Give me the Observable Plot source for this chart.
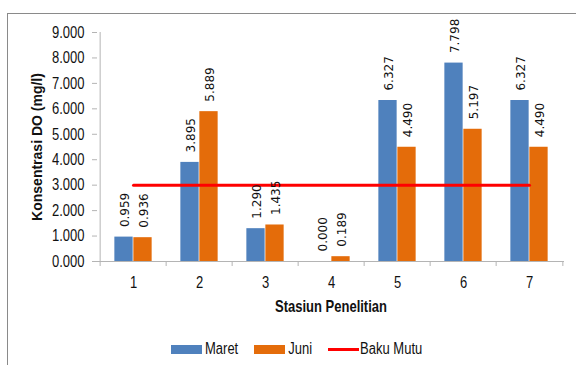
<!DOCTYPE html>
<html>
<head>
<meta charset="utf-8">
<script src="https://cdn.jsdelivr.net/npm/d3@7"></script>
<script src="https://cdn.jsdelivr.net/npm/@observablehq/plot@0.6"></script>
<style>
  body { margin: 0; background: #fff; }
  #wrap {
    position: relative; width: 576px; height: 365px; overflow: hidden; background: #fff;
    font-family: "Liberation Sans", Arial, sans-serif;
    color: #111;
  }
  #box {
    position: absolute; left: 7px; top: 13px; width: 620px; height: 400px;
    border-left: 1px solid #8a8a8a; border-top: 1px solid #8a8a8a;
  }
  #chart { position: absolute; left: 0; top: 0; }
  #legend {
    position: absolute; left: 171px; top: 339px; display: flex; align-items: center;
    font-size: 13px; line-height: 20px;
  }
  #legend .item { display: flex; align-items: center; margin-right: 16px; }
  #legend .item span { display: inline-block; transform: scaleY(1.28); }
  #legend .sw { width: 31px; height: 9px; margin-right: 3px; }
  #legend .ln { width: 31px; height: 3px; margin-right: 1px; }
</style>
</head>
<body>
<div id="wrap">
  <div id="box"></div>
  <div id="chart"></div>
  <div id="legend"></div>
</div>
<script>
// Dissolved oxygen per sampling station, March vs June, against the quality standard
const stations = ["1", "2", "3", "4", "5", "6", "7"];
const maret = [0.959, 3.895, 1.290, 0.000, 6.327, 7.798, 6.327];
const juni = [0.936, 5.889, 1.435, 0.189, 4.490, 5.197, 4.490];
const bakuMutu = 3;
const yTicks = [0, 1, 2, 3, 4, 5, 6, 7, 8, 9];
const seriesNames = ["Maret", "Juni", "Baku Mutu"];
const seriesColors = ["#4F81BD", "#E46C0A", "#FF0000"];

const rowsMaret = stations.map((s, i) => ({station: s, value: maret[i]}));
const rowsJuni = stations.map((s, i) => ({station: s, value: juni[i]}));

const width = 576, height = 325;
const margin = {top: 32, right: 12, bottom: 64, left: 97};
const bw = (width - margin.left - margin.right) / stations.length; // band width
const barW = 19;
const axisGray = "#b4b4b4";
const fmt = d3.format(".3f");
const labelFont = "DejaVu Sans";
const tallText = 1.28; // vertical stretch of the horizontal captions

const chart = Plot.plot({
  width, height,
  marginTop: margin.top, marginRight: margin.right,
  marginBottom: margin.bottom, marginLeft: margin.left,
  style: {background: "transparent", fontSize: "13px", color: "#111",
          fontFamily: "'Liberation Sans', Arial, sans-serif"},
  x: {domain: stations, padding: 0},
  y: {domain: [0, 9]},
  marks: [
    Plot.barY(rowsMaret, {x: "station", y: "value", fill: seriesColors[0],
      insetLeft: bw / 2 - barW, insetRight: bw / 2}),
    Plot.barY(rowsJuni, {x: "station", y: "value", fill: seriesColors[1],
      insetLeft: bw / 2, insetRight: bw / 2 - barW}),
    // axis lines
    Plot.ruleY([0], {stroke: axisGray}),
    Plot.ruleX([stations[0]], {dx: -bw / 2, y1: 0, y2: yTicks[yTicks.length - 1], stroke: axisGray}),
    // y axis: gray ticks, then labels
    Plot.axisY({ticks: yTicks, tickSize: 5, tickFormat: () => "", stroke: axisGray, label: null}),
    Plot.axisY({ticks: yTicks, tickSize: 0, tickPadding: 13, tickFormat: fmt, fontSize: 13, label: null}),
    Plot.text(["Konsentrasi DO (mg/l)"], {frameAnchor: "left", rotate: -90, dx: -60,
      textAnchor: "middle", lineAnchor: "middle", fontWeight: "bold", fontSize: 14}),
    // x axis: boundary ticks between stations, labels at station centres
    Plot.axisX({tickSize: 5, dx: -bw / 2, tickFormat: () => "", stroke: axisGray, label: null}),
    Plot.axisX({ticks: [stations[stations.length - 1]], tickSize: 5, dx: bw / 2,
      tickFormat: () => "", stroke: axisGray, label: null}),
    Plot.axisX({tickSize: 0, tickPadding: 15, fontSize: 13, label: null}),
    Plot.text(["Stasiun Penelitian"], {frameAnchor: "bottom", dy: 45, lineAnchor: "middle",
      fontWeight: "bold", fontSize: 13}),
    // quality standard
    Plot.lineY(stations, {x: d => d, y: () => bakuMutu, stroke: seriesColors[2], strokeWidth: 3}),
    // value labels
    Plot.text(rowsMaret, {x: "station", y: "value", text: d => fmt(d.value), rotate: -90,
      textAnchor: "start", lineAnchor: "middle", dx: -8, dy: -10, fontSize: 12, fontFamily: labelFont}),
    Plot.text(rowsJuni, {x: "station", y: "value", text: d => fmt(d.value), rotate: -90,
      textAnchor: "start", lineAnchor: "middle", dx: 11, dy: -10, fontSize: 12, fontFamily: labelFont})
  ]
});

// stretch the upright captions vertically about their anchor
chart.querySelectorAll("text").forEach(t => {
  const tr = t.getAttribute("transform") || "";
  if (tr.includes("rotate")) return;
  if (tr) {
    t.setAttribute("transform", `${tr} scale(1,${tallText})`);
  } else {
    const x = +t.getAttribute("x") || 0, y = +t.getAttribute("y") || 0;
    t.setAttribute("transform", `translate(${x},${y}) scale(1,${tallText}) translate(${-x},${-y})`);
  }
});
document.getElementById("chart").appendChild(chart);

// legend
const legend = document.getElementById("legend");
seriesNames.forEach((name, i) => {
  const item = document.createElement("div");
  item.className = "item";
  const sw = document.createElement("div");
  sw.className = i < 2 ? "sw" : "ln";
  sw.style.background = seriesColors[i];
  const label = document.createElement("span");
  label.textContent = name;
  item.appendChild(sw);
  item.appendChild(label);
  legend.appendChild(item);
});
</script>
</body>
</html>
